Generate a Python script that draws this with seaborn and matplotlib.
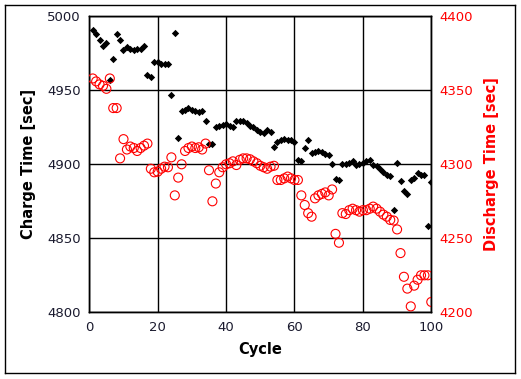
import numpy as np
import pandas as pd
import matplotlib
matplotlib.use("Agg")
import matplotlib.pyplot as plt
import seaborn as sns

cycles = list(range(1, 101))
charge_time = [
    4991, 4988, 4984, 4980, 4982, 4957, 4971, 4988, 4984, 4977,
    4979, 4978, 4977, 4978, 4978, 4980, 4960, 4959, 4969, 4969,
    4968, 4968, 4968, 4947, 4988.5, 4917.5, 4936, 4937, 4938, 4937,
    4936, 4935, 4936, 4929.5, 4913.5, 4914, 4925, 4926, 4926.6, 4927,
    4926, 4925, 4929, 4929, 4929, 4928, 4926, 4925, 4923, 4922,
    4921, 4923, 4922, 4912, 4915, 4916.5, 4917, 4916.5, 4916.5, 4915,
    4903, 4902, 4911, 4916.5, 4907.5, 4908.5, 4909, 4908.5, 4907, 4906,
    4900, 4890, 4889.5, 4900, 4900.5, 4901, 4902, 4899.5, 4900.5, 4901,
    4902, 4903, 4899.5, 4899, 4897, 4895, 4893, 4892, 4869, 4901,
    4889, 4882, 4880, 4889.5, 4891, 4894, 4893, 4892.7, 4858, 4888,
]
discharge_time = [
    4358, 4356, 4354, 4353, 4351, 4358, 4338, 4338, 4304, 4317,
    4310, 4312, 4311, 4309, 4311, 4312.6, 4314, 4297, 4294.6, 4295,
    4297, 4298.4, 4298, 4304.7, 4279, 4291, 4300, 4309, 4311, 4312,
    4311, 4311.5, 4310, 4314, 4296, 4275, 4287, 4294.6, 4298, 4300,
    4300.7, 4302, 4299.5, 4303, 4304, 4304, 4303.4, 4302, 4300.7, 4299,
    4298, 4297, 4298.4, 4299, 4289.4, 4289.4, 4290.5, 4291.7, 4290.5, 4289.4,
    4289.4, 4279, 4272.5, 4267, 4264.6, 4277, 4279, 4280, 4281, 4279,
    4283, 4253, 4247, 4267, 4266.4, 4269, 4270, 4269, 4268, 4269,
    4269, 4270, 4271.4, 4270, 4268, 4266, 4264.6, 4262.4, 4262, 4256,
    4240, 4224, 4216, 4204, 4218, 4222, 4225, 4225, 4225, 4207,
]
x_ticks = [0, 20, 40, 60, 80, 100]
charge_ticks = [4800, 4850, 4900, 4950, 5000]
discharge_ticks = [4200, 4250, 4300, 4350, 4400]

df = pd.DataFrame({"Cycle": cycles, "Charge": charge_time, "Discharge": discharge_time})

sns.set_style("white")
plt.rcParams["font.family"] = ["DejaVu Sans"]
plt.rcParams["axes.edgecolor"] = "black"
plt.rcParams["axes.linewidth"] = 1.0

fig = plt.figure(figsize=(5.21, 3.79), dpi=100)

# outer frame of the picture (an empty axes used only for its border)
frame = fig.add_axes([5 / 521, 6 / 379, 510 / 521, 368 / 379])
frame.set_zorder(-1)
frame.patch.set_visible(False)
frame.set_xticks([])
frame.set_yticks([])
frame.grid(False)

ax = fig.add_axes([0.1714, 0.176, 0.8278 - 0.1714, 0.957 - 0.176])

sns.scatterplot(data=df, x="Cycle", y="Charge", ax=ax, marker="D", s=14,
                color="black", edgecolor="black", linewidth=0, zorder=3)

ax.set_xlim(0, 100)
ax.set_ylim(4800, 5000)
ax.set_xticks(x_ticks)
ax.set_yticks(charge_ticks)
ax.tick_params(axis="both", length=0, pad=6, labelsize=9.5, labelcolor="#1a1a2e")
ax.grid(True, color="black", linewidth=1.0, linestyle="-")

ax2 = ax.twinx()
sns.scatterplot(data=df, x="Cycle", y="Discharge", ax=ax2, marker="o", s=42,
                facecolor="none", edgecolor="red", linewidth=0.8, zorder=3)
ax2.set_ylim(4200, 4400)
ax2.set_yticks(discharge_ticks)
ax2.tick_params(axis="y", length=0, pad=6, labelsize=9.5, labelcolor="red")

ax.set_xlabel("Cycle", fontsize=10.5, fontweight="bold", color="black", labelpad=6)
ax.set_ylabel("Charge Time [sec]", fontsize=10.5, fontweight="bold", color="black", labelpad=8)
ax2.set_ylabel("Discharge Time [sec]", fontsize=10.5, fontweight="bold", color="red", labelpad=8)

fig.savefig("out.png", dpi=100)
